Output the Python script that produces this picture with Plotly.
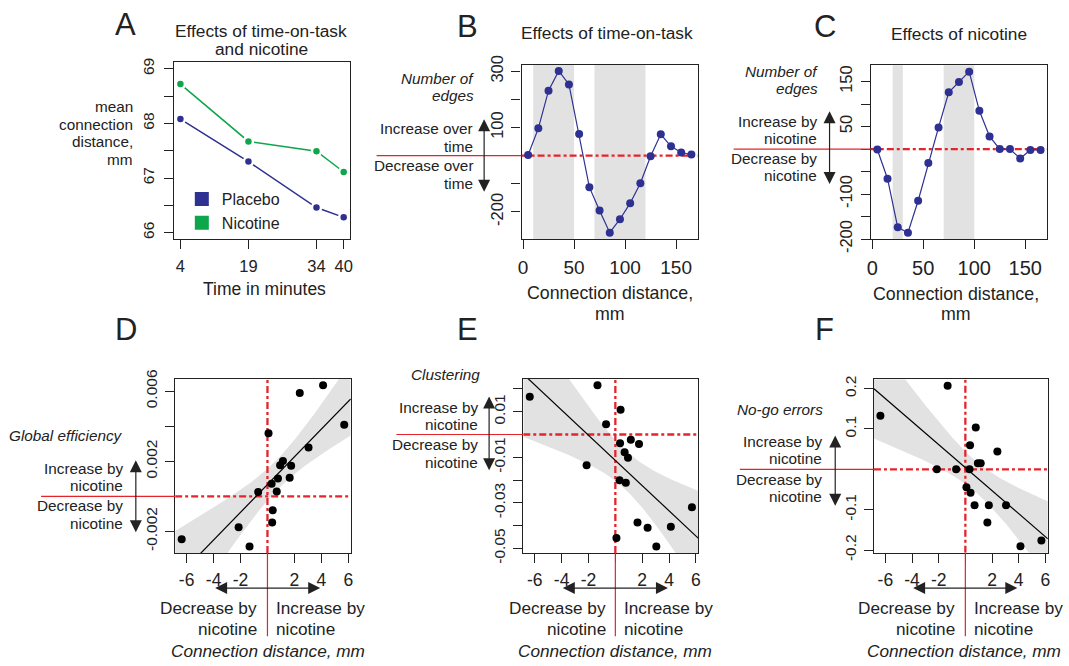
import numpy as np
import plotly.graph_objects as go

W, H = 1069, 666

# ---------------- data ----------------
time_min = [4, 19, 34, 40]
placebo = [68.08, 67.30, 66.46, 66.28]
nicotine = [68.72, 67.67, 67.49, 67.11]

dist_mm = [5, 15, 25, 35, 45, 55, 65, 75, 85, 95, 105, 115, 125, 135, 145, 155, 165]
time_effect = [2, 97, 231, 301, 253, 77, -112, -195, -274, -226, -169, -98, -2, 76, 33, 11, 4]
nic_effect = [-1, -66, -174, -186, -115, -31, 48, 126, 149, 172, 85, 28, 0, 0, -21, -2, -2]
time_sig = [(10, 50), (70, 120)]
nic_sig = [(20, 30), (70, 100)]

subj_dx = [-6.37, -2.14, -1.33, -0.69, 0.08, 0.31, 0.35, 0.39, 0.69, 0.78, 0.94, 1.15,
           1.65, 1.76, 2.40, 3.05, 4.13, 5.70]
glob_eff = [-0.00245, -0.00177, -0.00287, 0.000245, 0.0036, 0.00072, -0.00149, -0.00079,
            0.00028, 0.00102, 0.00177, 0.00202, 0.00106, 0.00175, 0.0059, 0.00279, 0.00634, 0.00408]
clustering = [0.01656, -0.0135, 0.02164, 0.0045, -0.04546, -0.02004, -0.00378, 0.0109,
              -0.00784, -0.0212, -0.01017, -0.00232, -0.03863, -0.00421, -0.04096, -0.04924,
              -0.04052, -0.03195]
nogo = [0.1331, 0.0, 0.207, 0.0, -0.0444, 0.0, 0.06, -0.0583, -0.0887, 0.1035, 0.0148, 0.0148,
        -0.132, -0.0887, 0.0444, -0.0887, -0.1906, -0.1766]

# ---------------- styling ----------------
FONT = "Liberation Sans, Arial, Helvetica, sans-serif"
NAVY = "#2E3192"
GREEN = "#0DA64B"
RED = "#E3242B"
INK = "#222222"
SHADE = "#E2E2E2"

# vertical calibration of the capture (measured): shown_y = OFF + SC * page_y
OFF, SC = 8.25, 0.975


def X(px):
    return px / W


def Y(py):
    return 1 - ((py - OFF) / SC) / H


def rng(v, lo=None, hi=None):
    a = min(v) if lo is None else lo
    b = max(v) if hi is None else hi
    d = (b - a) * 0.04
    return [a - d, b + d]


boxes = {
    1: (171.0, 62.0, 348.5, 240.7),
    2: (521.0, 64.3, 698.5, 240.7),
    3: (872.5, 65.0, 1050.0, 240.7),
    4: (172.3, 381.7, 349.0, 557.7),
    5: (522.7, 381.7, 699.0, 557.7),
    6: (875.7, 382.3, 1050.7, 557.3),
}

fig = go.Figure()
shapes = []
ann = []


def sfx(i):
    return "" if i == 1 else str(i)


def axes(i, xr, yr, xt, xtt, yt, ytt, xfs, yfs, xso=2, yso=2):
    x0, y0, x1, y1 = boxes[i]
    common = dict(showgrid=False, zeroline=False, showline=True, mirror=True,
                  linecolor=INK, linewidth=1.2, ticks="outside", ticklen=9,
                  tickwidth=1.2, tickcolor=INK, fixedrange=True)
    fig.layout["xaxis" + sfx(i)] = dict(
        domain=[X(x0), X(x1)], range=xr, anchor="y" + sfx(i), tickvals=xt, ticktext=xtt,
        tickfont=dict(family=FONT, size=xfs, color=INK), ticklabelstandoff=xso, **common)
    fig.layout["yaxis" + sfx(i)] = dict(
        domain=[Y(y1), Y(y0)], range=yr, anchor="x" + sfx(i), tickvals=yt, ticktext=ytt,
        tickangle=-90, tickfont=dict(family=FONT, size=yfs, color=INK), ticklabelstandoff=yso,
        **common)


def text(s, x, y, xa="center", size=15, italic=False):
    ann.append(dict(text=s, x=X(x), y=Y(y), xref="paper", yref="paper", xanchor=xa,
                    yanchor="middle", showarrow=False,
                    font=dict(family=FONT, size=size, color=INK,
                              style="italic" if italic else "normal")))


def arrow(x0, y0, x1, y1):
    ann.append(dict(text="", x=X(x1), y=Y(y1), xref="paper", yref="paper",
                    ax=x0 - x1, ay=(y0 - y1) / SC, axref="pixel", ayref="pixel", showarrow=True,
                    arrowhead=2, arrowsize=2.0, arrowwidth=1.2, arrowcolor=INK,
                    arrowside="end+start", startarrowhead=2, startarrowsize=2.0))


# ---------------- Panel A ----------------
axes(1, rng(time_min), rng([], 66, 69), time_min, [str(t) for t in time_min],
     [66, 66.5, 67, 67.5, 68, 68.5, 69], ["66", "", "67", "", "68", "", "69"], 16.5, 15.5,
     xso=3, yso=4)
for name, vals, col in [("Placebo", placebo, NAVY), ("Nicotine", nicotine, GREEN)]:
    fig.add_trace(go.Scatter(x=time_min, y=vals, mode="lines+markers", xaxis="x", yaxis="y",
                             line=dict(color=col, width=1.5), showlegend=False,
                             marker=dict(color=col, size=9, line=dict(color="white", width=2.5))))
    fig.add_trace(go.Scatter(x=[None], y=[None], mode="markers", name=name, xaxis="x", yaxis="y",
                             marker=dict(color=col, size=14, symbol="square")))
text("A", 122, 24, size=31)
text("Effects of time-on-task", 259, 30, size=17.3)
text("and nicotine", 259, 49, size=17.3)
for s, yy in [("mean", 107), ("connection", 124.7), ("distance,", 142), ("mm", 160)]:
    text(s, 132, yy, xa="right", size=15.3)
text("Time in minutes", 262, 291.5, size=17.5)


# ---------------- Panels B, C ----------------
def zero_h(i, xr):
    fig.add_trace(go.Scatter(x=xr, y=[0, 0], mode="lines", xaxis="x" + sfx(i), yaxis="y" + sfx(i),
                             line=dict(color=RED, width=2.3, dash="7px,3px,3px,3px"),
                             showlegend=False, hoverinfo="skip"))


def zero_v(i, yr):
    fig.add_trace(go.Scatter(x=[0, 0], y=yr, mode="lines", xaxis="x" + sfx(i), yaxis="y" + sfx(i),
                             line=dict(color=RED, width=2.3, dash="7px,3px,3px,3px"),
                             showlegend=False, hoverinfo="skip"))


xr_bc = rng(dist_mm)
for i, vals, sig, yt, ytt, xfs in [
    (2, time_effect, time_sig, [-200, -100, 0, 100, 200, 300], ["-200", "", "", "100", "", "300"], 19),
    (3, nic_effect, nic_sig, [-200, -150, -100, -50, 0, 50, 100, 150],
     ["-200", "", "-100", "", "", "50", "", "150"], 20),
]:
    yr = rng(vals)
    axes(i, xr_bc, yr, [0, 50, 100, 150], ["0", "50", "100", "150"], yt, ytt, xfs, 16.5)
    for a, b in sig:
        shapes.append(dict(type="rect", xref="x" + sfx(i), yref="y" + sfx(i) + " domain",
                           x0=a, x1=b, y0=0, y1=1, fillcolor=SHADE, line=dict(width=0),
                           layer="below"))
    zero_h(i, xr_bc)
    fig.add_trace(go.Scatter(x=dist_mm, y=vals, mode="lines+markers", xaxis="x" + sfx(i),
                             yaxis="y" + sfx(i), line=dict(color=NAVY, width=1.2),
                             marker=dict(color=NAVY, size=8), showlegend=False))
    x0 = boxes[i][0]
    shapes.append(dict(type="line", xref="paper", yref="y" + sfx(i),
                       x0=X(x0 - (146 if i == 2 else 138)), x1=X(x0), y0=0, y1=0,
                       line=dict(color=RED, width=1.2)))

text("B", 466.7, 26, size=31)
text("Effects of time-on-task", 607, 32.5, size=17.3)
text("Number of", 475, 78, xa="right", size=15.3, italic=True)
text("edges", 475, 96, xa="right", size=15.3, italic=True)
text("Increase over", 474, 129, xa="right", size=15.3)
text("time", 474, 146.7, xa="right", size=15.3)
text("Decrease over", 474, 166.3, xa="right", size=15.3)
text("time", 474, 184, xa="right", size=15.3)
arrow(483.3, 120.7, 483.3, 192.7)
text("Connection distance,", 610, 295, size=17.8)
text("mm", 610, 316, size=17.8)

text("C", 826, 26, size=31)
text("Effects of nicotine", 961, 33, size=17.3)
text("Number of", 821.7, 71, xa="right", size=15.3, italic=True)
text("edges", 821.7, 89, xa="right", size=15.3, italic=True)
text("Increase by", 820, 122, xa="right", size=15.3)
text("nicotine", 820, 139.3, xa="right", size=15.3)
text("Decrease by", 820, 159, xa="right", size=15.3)
text("nicotine", 820, 176.7, xa="right", size=15.3)
arrow(831, 112.7, 831, 185)
text("Connection distance,", 958, 296, size=17.8)
text("mm", 958, 316, size=17.8)

# ---------------- Panels D, E, F ----------------
T975 = 2.119905  # t quantile, df = 16
xr_s = rng(subj_dx)
xs = np.linspace(xr_s[0], xr_s[1], 120)
xd = np.array(subj_dx)
panels = [
    (4, glob_eff, [-0.002, 0, 0.002, 0.004, 0.006], ["-0.002", "", "0.002", "", "0.006"]),
    (5, clustering, [-0.05, -0.04, -0.03, -0.02, -0.01, 0, 0.01, 0.02],
     ["-0.05", "", "-0.03", "", "-0.01", "", "0.01", ""]),
    (6, nogo, [-0.2, -0.1, 0, 0.1, 0.2], ["-0.2", "-0.1", "", "0.1", "0.2"]),
]
for i, vals, yt, ytt in panels:
    yv = np.array(vals)
    yr = rng(vals)
    axes(i, xr_s, yr, [-6, -4, -2, 0, 2, 4, 6], ["-6", "-4", "-2", "", "2", "4", "6"], yt, ytt,
         17.5, 15.5, xso=2)
    b1, b0 = np.polyfit(xd, yv, 1)
    n = len(xd)
    res = yv - (b0 + b1 * xd)
    s = np.sqrt(np.sum(res ** 2) / (n - 2))
    se = s * np.sqrt(1 / n + (xs - xd.mean()) ** 2 / np.sum((xd - xd.mean()) ** 2))
    fit = b0 + b1 * xs
    xa_, ya_ = "x" + sfx(i), "y" + sfx(i)
    fig.add_trace(go.Scatter(x=xs, y=fit + T975 * se, mode="lines", line=dict(width=0),
                             xaxis=xa_, yaxis=ya_, showlegend=False, hoverinfo="skip"))
    fig.add_trace(go.Scatter(x=xs, y=fit - T975 * se, mode="lines", line=dict(width=0),
                             fill="tonexty", fillcolor=SHADE, xaxis=xa_, yaxis=ya_,
                             showlegend=False, hoverinfo="skip"))
    zero_h(i, xr_s)
    zero_v(i, yr)
    fig.add_trace(go.Scatter(x=xs, y=fit, mode="lines", line=dict(color="black", width=1.2),
                             xaxis=xa_, yaxis=ya_, showlegend=False, hoverinfo="skip"))
    fig.add_trace(go.Scatter(x=subj_dx, y=vals, mode="markers", marker=dict(color="black", size=8),
                             xaxis=xa_, yaxis=ya_, showlegend=False))
    bx0, by0, bx1, by1 = boxes[i]
    left_ext = {4: 37.3, 5: 395.0, 6: 740.7}[i]
    shapes.append(dict(type="line", xref="paper", yref=ya_, x0=X(left_ext), x1=X(bx0), y0=0, y1=0,
                       line=dict(color=RED, width=1.2)))
    shapes.append(dict(type="line", xref=xa_, yref="paper", x0=0, x1=0, y0=Y(by1), y1=Y(641.7),
                       line=dict(color=RED, width=1.2)))

BOT = 17.2
# D annotations
text("D", 123, 332, size=31)
text("Global efficiency", 121.7, 439, xa="right", size=15.3, italic=True)
text("Increase by", 122.3, 472, xa="right", size=15.3)
text("nicotine", 122.3, 489, xa="right", size=15.3)
text("Decrease by", 122.3, 510, xa="right", size=15.3)
text("nicotine", 122.3, 528, xa="right", size=15.3)
arrow(132.7, 465, 132.7, 536.7)
arrow(211.7, 593, 318.3, 593)
text("Decrease by", 257, 613.5, xa="right", size=BOT)
text("nicotine", 257, 634, xa="right", size=BOT)
text("Increase by", 271.7, 613.5, xa="left", size=BOT)
text("nicotine", 271.7, 634, xa="left", size=BOT)
text("Connection distance, mm", 266, 656.5, size=BOT, italic=True)

# E annotations
text("E", 467, 332, size=31)
text("Clustering", 480.7, 377.5, xa="right", size=15.3, italic=True)
text("Increase by", 479.3, 411, xa="right", size=15.3)
text("nicotine", 479.3, 427.5, xa="right", size=15.3)
text("Decrease by", 479.3, 448.5, xa="right", size=15.3)
text("nicotine", 479.3, 466, xa="right", size=15.3)
arrow(488.3, 400.7, 488.3, 474)
arrow(561.7, 593, 668.3, 593)
text("Decrease by", 608.3, 613.5, xa="right", size=BOT)
text("nicotine", 608.3, 634, xa="right", size=BOT)
text("Increase by", 621.7, 613.5, xa="left", size=BOT)
text("nicotine", 621.7, 634, xa="left", size=BOT)
text("Connection distance, mm", 615, 656.5, size=BOT, italic=True)

# F annotations
text("F", 826, 332, size=31)
text("No-go errors", 826, 412.5, xa="right", size=15.3, italic=True)
text("Increase by", 825, 445, xa="right", size=15.3)
text("nicotine", 825, 462.5, xa="right", size=15.3)
text("Decrease by", 825, 483.5, xa="right", size=15.3)
text("nicotine", 825, 501, xa="right", size=15.3)
arrow(836.7, 440, 836.7, 510)
arrow(914.3, 593, 1020, 593)
text("Decrease by", 959.3, 613.5, xa="right", size=BOT)
text("nicotine", 959.3, 634, xa="right", size=BOT)
text("Increase by", 974, 613.5, xa="left", size=BOT)
text("nicotine", 974, 634, xa="left", size=BOT)
text("Connection distance, mm", 966, 656.5, size=BOT, italic=True)

fig.update_layout(
    width=W, height=H, margin=dict(l=0, r=0, t=0, b=0),
    paper_bgcolor="white", plot_bgcolor="white",
    font=dict(family=FONT, color=INK),
    shapes=shapes, annotations=ann,
    showlegend=True,
    legend=dict(x=X(179), y=Y(183), xanchor="left", yanchor="top", bgcolor="rgba(0,0,0,0)",
                font=dict(family=FONT, size=16, color=INK), tracegroupgap=0, itemwidth=30,
                traceorder="normal"),
)
POST = "document.body.style.margin='0';"
fig.write_html("out.html", post_script=POST, config={"displayModeBar": False})
